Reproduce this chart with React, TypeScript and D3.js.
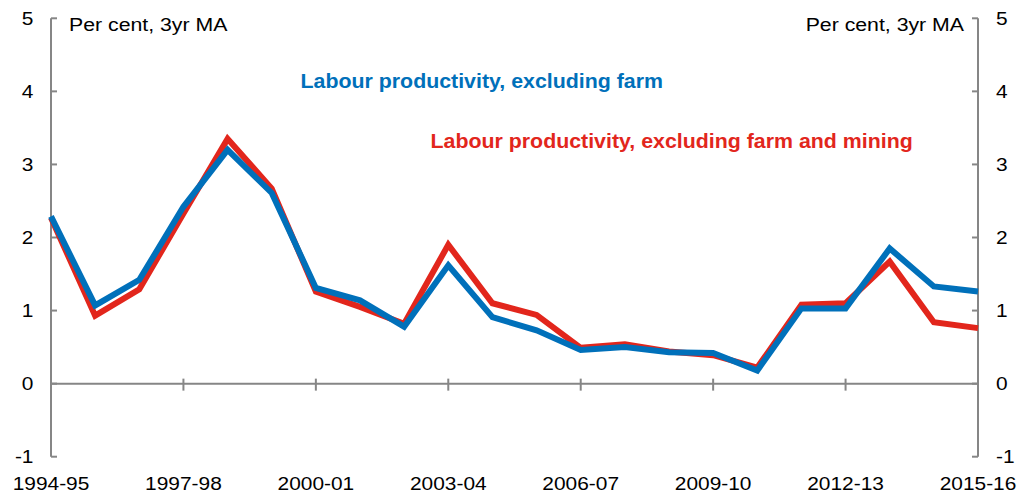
import * as d3 from 'd3';

const years = [
  '1994-95', '1995-96', '1996-97', '1997-98', '1998-99', '1999-00', '2000-01', '2001-02',
  '2002-03', '2003-04', '2004-05', '2005-06', '2006-07', '2007-08', '2008-09', '2009-10',
  '2010-11', '2011-12', '2012-13', '2013-14', '2014-15', '2015-16',
];

const exFarm = [
  2.29, 1.07, 1.42, 2.42, 3.2, 2.61, 1.31, 1.14, 0.78, 1.62, 0.91, 0.73, 0.46, 0.5, 0.43, 0.42,
  0.18, 1.03, 1.03, 1.85, 1.33, 1.26,
];

const exFarmMining = [
  2.27, 0.93, 1.29, 2.33, 3.35, 2.67, 1.26, 1.05, 0.82, 1.9, 1.1, 0.94, 0.49, 0.54, 0.44, 0.39,
  0.22, 1.08, 1.1, 1.67, 0.84, 0.76,
];

const yTicks = [-1, 0, 1, 2, 3, 4, 5];
const xLabelYears = ['1994-95', '1997-98', '2000-01', '2003-04', '2006-07', '2009-10', '2012-13', '2015-16'];

const W = 1033;
const H = 492;
const left = 51;
const right = 978;
const top = 18.3;
const bottom = 456.7;
const BLUE = '#0070BA';
const RED = '#E2261C';
const GREY = '#868686';
const FONT = 'Arial, "Liberation Sans", sans-serif';

// text is a little wider than the font in the original, so stretch it
type TProps = {
  x: number;
  y: number;
  size?: number;
  sx?: number;
  anchor?: 'start' | 'middle' | 'end';
  fill?: string;
  bold?: boolean;
  dy?: string;
  children: React.ReactNode;
};

function T({ x, y, size = 19, sx = 1.1, anchor = 'start', fill = '#000', bold, dy, children }: TProps) {
  return (
    <text
      transform={`translate(${x},${y}) scale(${sx},1)`}
      dy={dy}
      fontSize={size}
      textAnchor={anchor}
      fill={fill}
      fontWeight={bold ? 'bold' : 'normal'}
    >
      {children}
    </text>
  );
}

export default function App() {
  const x = d3.scalePoint<string>().domain(years).range([left, right]);
  const y = d3.scaleLinear().domain([-1, 5]).range([bottom, top]);

  const line = d3
    .line<number>()
    .x((_, i) => x(years[i]) as number)
    .y((d) => y(d));

  return (
    <svg
      width={W}
      height={H}
      style={{ position: 'absolute', left: 0, top: 0, background: '#fff' }}
      fontFamily={FONT}
    >
      {/* zero line */}
      <line x1={left} x2={right} y1={y(0)} y2={y(0)} stroke={GREY} strokeWidth={2} />
      {/* x ticks */}
      {xLabelYears.map((yr) => (
        <line key={yr} x1={x(yr)} x2={x(yr)} y1={y(0) - 5} y2={y(0) + 7} stroke={GREY} strokeWidth={2} />
      ))}
      {/* left & right axes */}
      <line x1={left} x2={left} y1={top} y2={bottom} stroke={GREY} strokeWidth={2} />
      <line x1={right} x2={right} y1={top} y2={bottom} stroke={GREY} strokeWidth={2} />
      {yTicks.map((t) => (
        <g key={t}>
          <line x1={left} x2={left + 6} y1={y(t)} y2={y(t)} stroke={GREY} strokeWidth={2} />
          <line x1={right - 6} x2={right} y1={y(t)} y2={y(t)} stroke={GREY} strokeWidth={2} />
          <T x={33.5} y={y(t)} dy="0.35em" anchor="end">
            {t}
          </T>
          <T x={996} y={y(t)} dy="0.35em">
            {t}
          </T>
        </g>
      ))}
      {xLabelYears.map((yr) => (
        <T key={yr} x={x(yr) as number} y={489.5} anchor="middle">
          {yr}
        </T>
      ))}
      <T x={69} y={30.5} sx={1.12}>
        Per cent, 3yr MA
      </T>
      <T x={964} y={30.5} sx={1.12} anchor="end">
        Per cent, 3yr MA
      </T>

      <path d={line(exFarmMining) ?? ''} fill="none" stroke={RED} strokeWidth={6} strokeLinejoin="miter" />
      <path d={line(exFarm) ?? ''} fill="none" stroke={BLUE} strokeWidth={6} strokeLinejoin="miter" />

      <T x={300.5} y={87.5} size={19.5} sx={1.095} bold fill={BLUE}>
        Labour productivity, excluding farm
      </T>
      <T x={430.5} y={148} size={19.5} sx={1.095} bold fill={RED}>
        Labour productivity, excluding farm and mining
      </T>
    </svg>
  );
}
